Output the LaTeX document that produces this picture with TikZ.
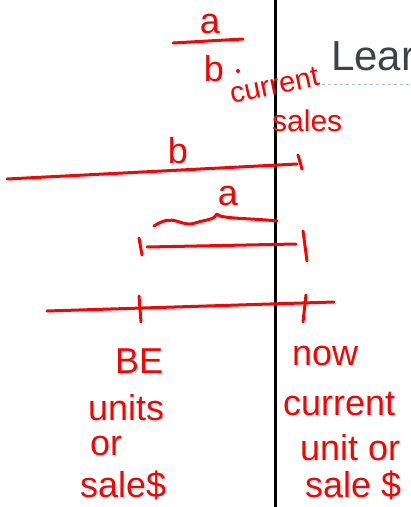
\documentclass[tikz,border=0pt]{standalone}
\usepackage{fontspec}
\setmainfont{Liberation Sans}
\definecolor{slate}{HTML}{3E414C}
\definecolor{rule}{HTML}{A9BED6}
\begin{document}
\begin{tikzpicture}[x=1pt,y=-1pt,
  ink/.style={red,line width=3pt,line cap=round,line join=round},
  scrawl/.style={red,inner sep=0pt,anchor=base west,font=\fontsize{36}{40}\selectfont}]
\useasboundingbox (0,0) rectangle (411,507);
\clip (0,0) rectangle (411,507);
\coordinate (T) at (275,0);
\coordinate (U) at (275,507);
\coordinate (R1) at (322,84);
\coordinate (R2) at (411,84);
\draw [line width=3pt] (T) to (U);
\draw [rule,dashed,line width=0.8pt] (R1) to (R2);
\node[anchor=base west,inner sep=0pt,text=slate,font=\fontsize{42}{46}\selectfont] (title) at (331,70) {Lear};
% fraction a/b
\node[scrawl,anchor=base] (fa) at (210,33) {a};
\node[scrawl,anchor=base] (fb) at (214,81) {b};
\coordinate (F1) at (173,43);
\coordinate (F2) at (243,39);
\coordinate (dot) at (238,71);
\draw [ink] (F1) to (F2);
\fill [red] (dot) circle (2pt);
\node[scrawl,rotate=12,font=\fontsize{29}{33}\selectfont] (cs1) at (232,104) {current};
\node[scrawl,font=\fontsize{30}{34}\selectfont] (cs2) at (272,131) {sales};
% line b
\coordinate (B1) at (7,179);
\coordinate (B2) at (297,164);
\coordinate[] (BT1) at (298,155);
\coordinate[] (BT2) at (302,169);
\draw [ink] (B1) to (B2);
\draw [ink] (BT1) to (BT2);
\node[scrawl,anchor=base] (lb) at (178,163) {b};
% brace a
\coordinate (A1) at (154,226);
\coordinate (A2) at (217,214);
\coordinate (A3) at (277,221);
\draw [ink] (A1) .. controls (175,212) and (180,228) .. (195,223)
  .. controls (208,219) and (214,220) .. (A2)
  .. controls (220,219) and (250,218) .. (A3);
\node[scrawl,anchor=base] (la) at (228,205) {a};
% segment a
\coordinate (S1) at (147,247);
\coordinate (S2) at (296,244);
\draw [ink] (S1) to (S2);
\coordinate (ST1) at (139,238);
\coordinate (ST2) at (142,255);
\coordinate (ST3) at (303,231);
\coordinate (ST4) at (307,261);
\draw [ink] (ST1) to (ST2);
\draw [ink] (ST3) to (ST4);
% base line
\coordinate (L1) at (47,311);
\coordinate (L2) at (334,302);
\draw [ink] (L1) to (L2);
\coordinate (LT1) at (139,296);
\coordinate (LT2) at (141,322);
\coordinate (LT3) at (306,295);
\coordinate (LT4) at (303,322);
\draw [ink] (LT1) to (LT2);
\draw [ink] (LT3) to (LT4);
% labels under the ticks
\node[scrawl] (be) at (115,373) {BE};
\node[scrawl] (bu) at (88,420) {units};
\node[scrawl] (bo) at (90,455) {or};
\node[scrawl] (bs) at (80,497) {sale\$};
\node[scrawl] (nw) at (292,365) {now};
\node[scrawl] (nc) at (283,415) {current};
\node[scrawl] (nu) at (300,460) {unit or};
\node[scrawl] (ns) at (305,497) {sale \$};
\end{tikzpicture}
\end{document}
